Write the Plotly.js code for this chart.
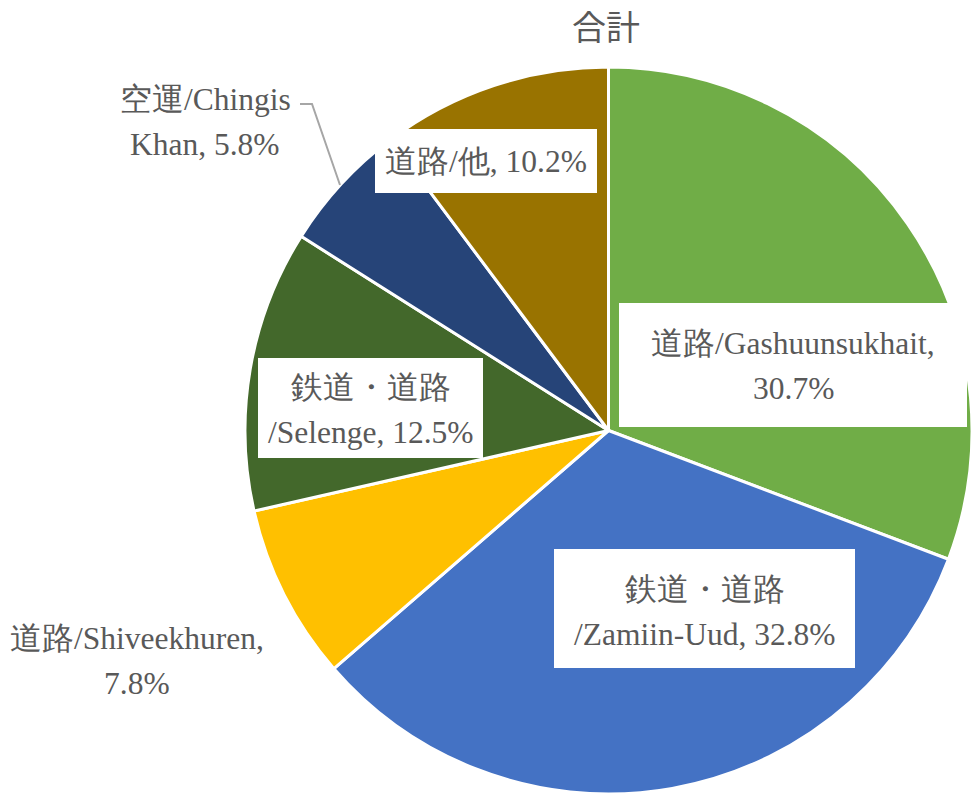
<!DOCTYPE html>
<html>
<head>
<meta charset="utf-8">
<script src="https://cdn.plot.ly/plotly-3.0.1.min.js"></script>
<style>html,body{margin:0;padding:0;background:#fff;}#chart{width:973px;height:794px;}</style>
</head>
<body>
<div id="chart"></div>
<script>
// ---- data ----
const modes = ["道路", "鉄道・道路", "道路", "鉄道・道路", "空運", "道路"];
const ports = ["Gashuunsukhait", "Zamiin-Uud", "Shiveekhuren", "Selenge", "Chingis Khan", "他"];
const shares = [30.7, 32.8, 7.8, 12.5, 5.8, 10.2];
const chartTitle = "合計";

// ---- styles ----
const colors = ["#70AD47", "#4472C4", "#FFC000", "#43682B", "#264478", "#997300"];
const breaks = ["comma", "mode", "comma", "mode", "space", "none"];
// text centre (tx, ty) and white box (bx, by, w, h); w = 0 means no box
const labelPos = [
  {tx: 793, ty: 366, bx: 793, by: 365, w: 348, h: 124},
  {tx: 704.5, ty: 612, bx: 704.5, by: 608.5, w: 301, h: 119},
  {tx: 137, ty: 661, w: 0},
  {tx: 370.5, ty: 410, bx: 370.5, by: 408, w: 225, h: 100},
  {tx: 205, ty: 122, w: 0},
  {tx: 486, ty: 161, bx: 486, by: 161, w: 222, h: 64}
];
const lineGap = 45;
const W = 973, H = 794;
const px = x => x / W, py = y => 1 - y / H;
const textColor = "#595959";
const labelFont = {family: "Liberation Serif", size: 31.5, color: textColor};

const labels = modes.map((m, i) => m + "/" + ports[i]);
function labelLines(i) {
  const v = shares[i].toFixed(1) + "%";
  const p = ports[i];
  switch (breaks[i]) {
    case "comma": return [modes[i] + "/" + p + ",", v];
    case "mode": return [modes[i], "/" + p + ", " + v];
    case "space": {
      const k = p.indexOf(" ");
      return [modes[i] + "/" + p.slice(0, k), p.slice(k + 1) + ", " + v];
    }
    default: return [modes[i] + "/" + p + ", " + v];
  }
}

const annotations = [];
const shapes = [];
shares.forEach((s, i) => {
  const L = labelPos[i];
  if (L.w) {
    shapes.push({type: "rect", xref: "paper", yref: "paper",
      x0: px(L.bx - L.w / 2), x1: px(L.bx + L.w / 2), y0: py(L.by + L.h / 2), y1: py(L.by - L.h / 2),
      fillcolor: "#FFFFFF", line: {width: 0}, layer: "above"});
  }
  const lines = labelLines(i);
  lines.forEach((t, j) => {
    const y = L.ty + (j - (lines.length - 1) / 2) * lineGap;
    annotations.push({xref: "paper", yref: "paper", x: px(L.tx), y: py(y),
      xanchor: "center", yanchor: "middle", showarrow: false, text: t, font: labelFont});
  });
});
shapes.push({
  type: "path", xref: "paper", yref: "paper",
  path: "M " + px(300) + "," + py(104) + " L " + px(312) + "," + py(104) + " L " + px(340) + "," + py(185),
  line: {color: "#A6A6A6", width: 2}
});

const trace = {
  type: "pie",
  labels: labels,
  values: shares,
  sort: false,
  direction: "clockwise",
  rotation: 0,
  marker: {colors: colors, line: {color: "#FFFFFF", width: 3}},
  textinfo: "none",
  hoverinfo: "label+percent",
  domain: {x: [px(245), px(972)], y: [py(794), py(67)]},
  showlegend: false
};

const layout = {
  width: W, height: H,
  margin: {l: 0, r: 0, t: 0, b: 0},
  paper_bgcolor: "#FFFFFF",
  showlegend: false,
  title: {text: chartTitle, x: px(606), xanchor: "center", y: py(28), yanchor: "middle",
          font: {family: "Noto Sans CJK JP", size: 34, color: textColor}},
  annotations: annotations,
  shapes: shapes
};

Plotly.newPlot("chart", [trace], layout, {displayModeBar: false, staticPlot: true});
</script>
</body>
</html>
